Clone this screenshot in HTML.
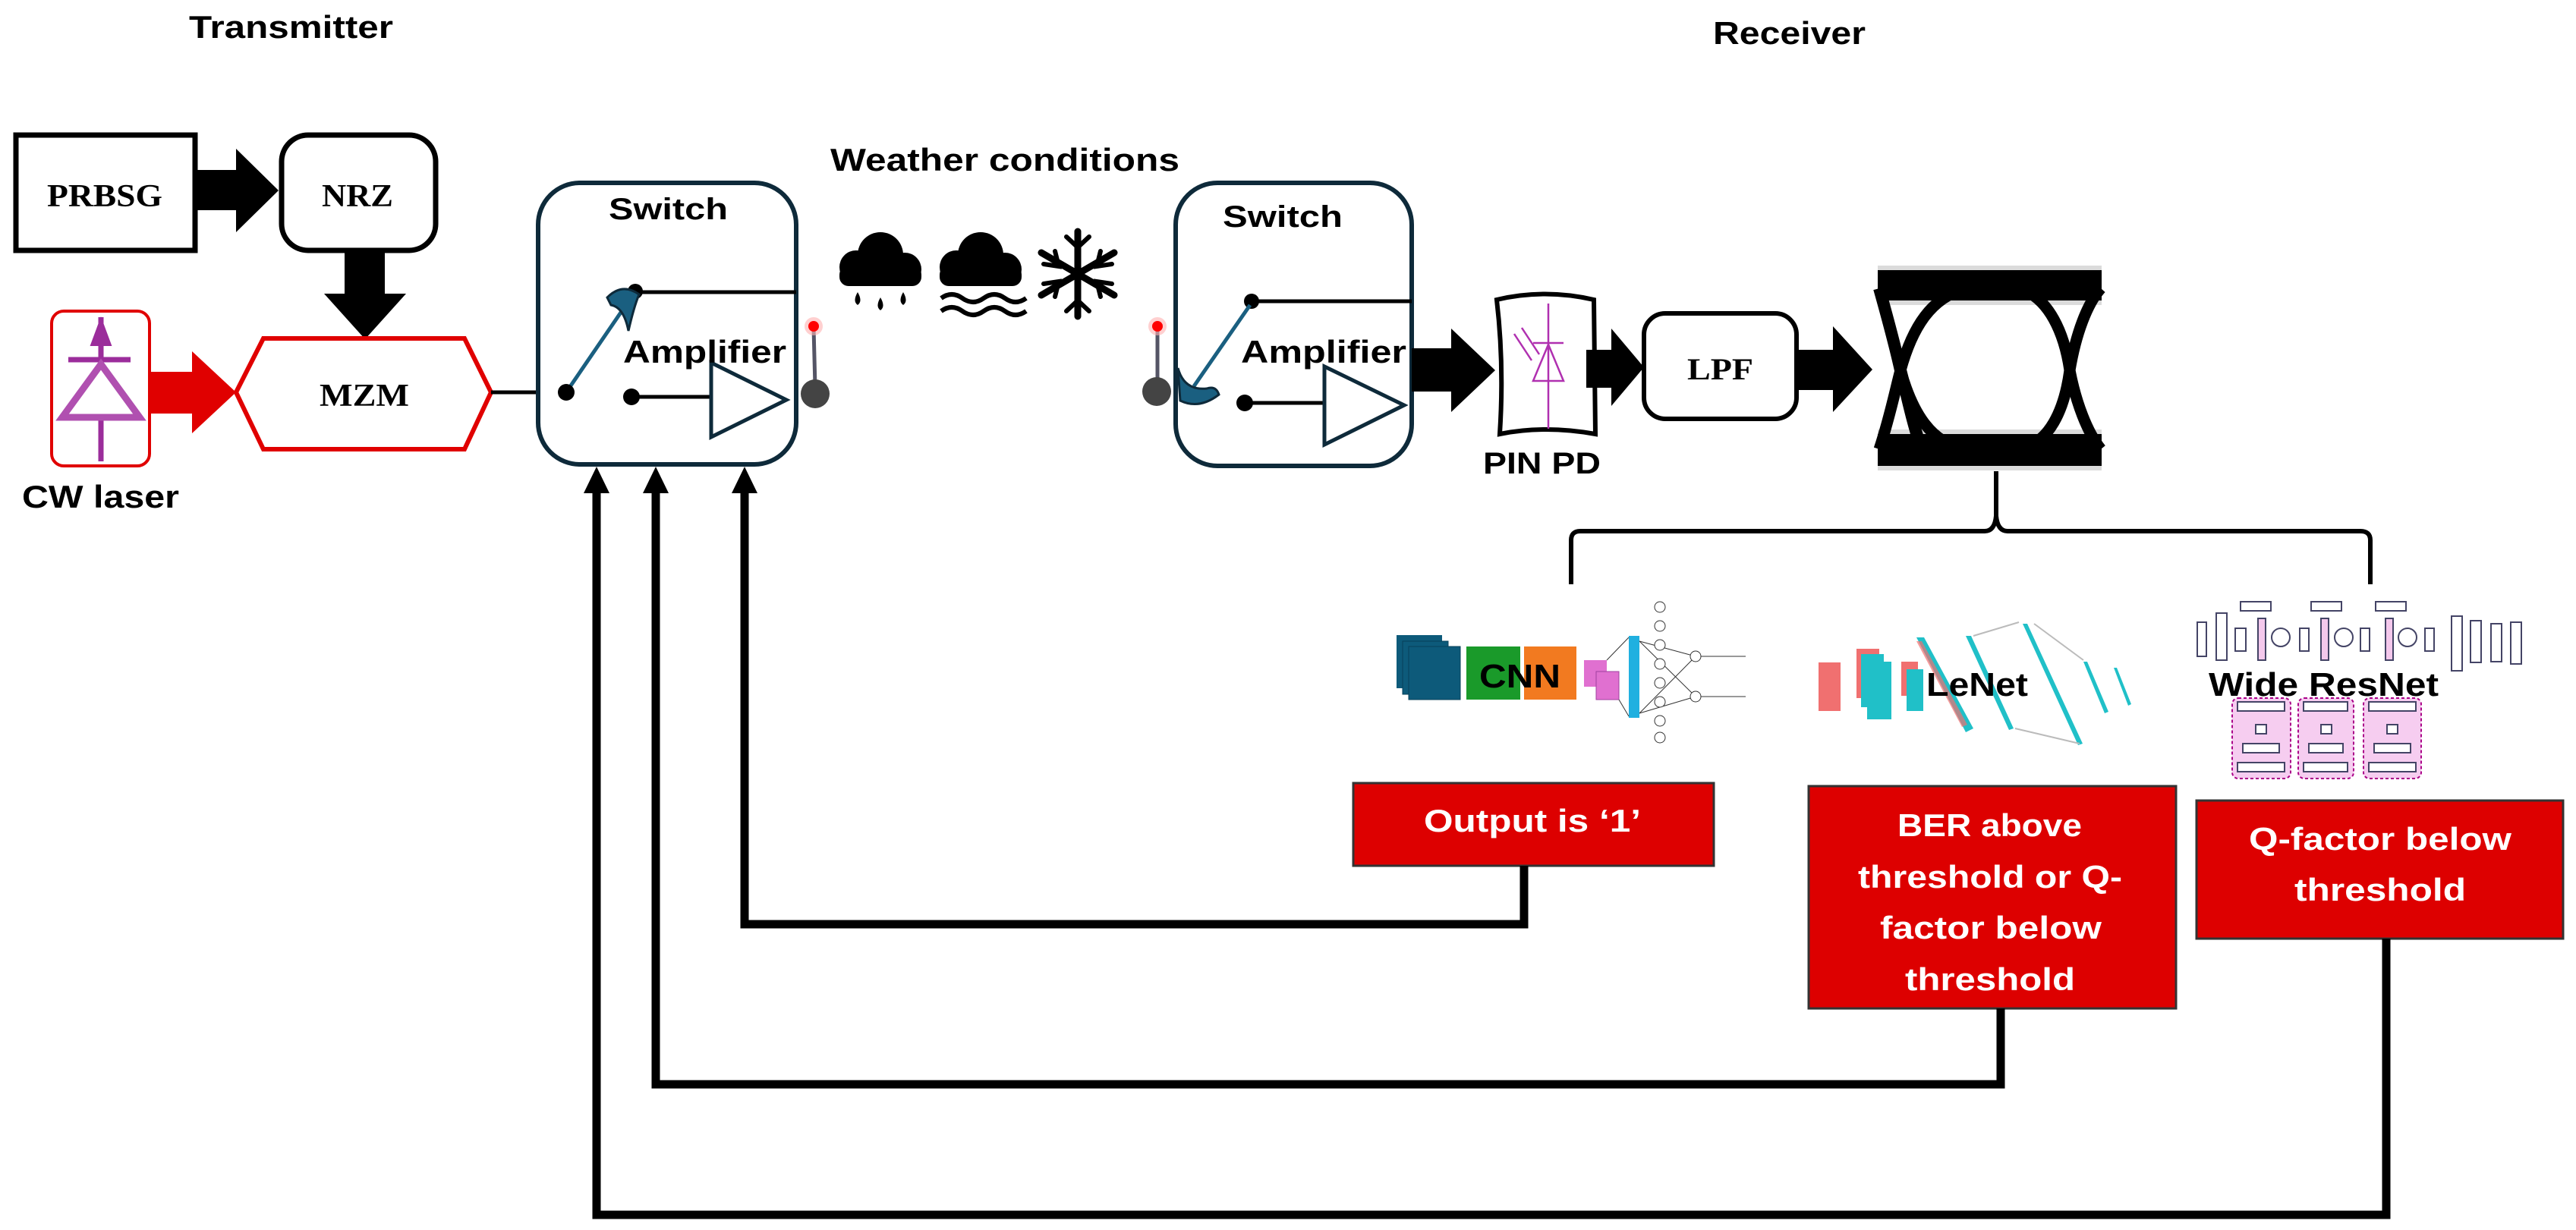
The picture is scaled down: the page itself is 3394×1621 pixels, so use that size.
<!DOCTYPE html>
<html><head><meta charset="utf-8"><style>
html,body{margin:0;padding:0;background:#fff;}
svg{display:block;}
text{font-family:"Liberation Sans",sans-serif;font-weight:bold;}
.serif{font-family:"Liberation Serif",serif;font-weight:bold;}
</style></head><body>
<svg width="3394" height="1621" viewBox="0 0 3394 1621" xmlns="http://www.w3.org/2000/svg">
<rect width="3394" height="1621" fill="#fff"/>

<!-- Titles -->
<text x="249" y="50" font-size="42" textLength="269" lengthAdjust="spacingAndGlyphs">Transmitter</text>
<text x="1094" y="225" font-size="42" textLength="460" lengthAdjust="spacingAndGlyphs">Weather conditions</text>
<text x="2257" y="58" font-size="42" textLength="201" lengthAdjust="spacingAndGlyphs">Receiver</text>

<!-- PRBSG / NRZ -->
<rect x="21" y="178" width="236" height="152" fill="#fff" stroke="#000" stroke-width="7"/>
<text class="serif" x="62" y="272" font-size="42" textLength="152" lengthAdjust="spacingAndGlyphs">PRBSG</text>
<polygon points="257,224 311,224 311,196 367,251 311,306 311,277 257,277" fill="#000"/>
<rect x="371" y="178" width="203" height="152" rx="35" fill="#fff" stroke="#000" stroke-width="7"/>
<text class="serif" x="424" y="272" font-size="42" textLength="94" lengthAdjust="spacingAndGlyphs">NRZ</text>
<polygon points="454,330 507,330 507,387 535,387 481,447 427,387 454,387" fill="#000"/>

<!-- Laser -->
<rect x="68" y="410" width="129" height="204" rx="16" fill="#fff" stroke="#e00000" stroke-width="4"/>
<g stroke="#9b2d9b" fill="none" stroke-width="7">
<line x1="133" y1="418" x2="133" y2="474"/>
<line x1="133" y1="550" x2="133" y2="608"/>
<line x1="90" y1="474" x2="172" y2="474"/>
<polygon points="133,480 82,550 184,550" stroke-width="9" stroke="#b050b0"/>
<polygon points="133,420 120,455 146,455" fill="#9b2d9b" stroke-width="2"/>
</g>
<text x="29" y="669" font-size="42" textLength="207" lengthAdjust="spacingAndGlyphs">CW laser</text>
<polygon points="197,490 253,490 253,463 311,517 253,571 253,545 197,545" fill="#e00000"/>

<!-- MZM -->
<polygon points="311,517 347,446 612,446 647,517 612,592 347,592" fill="#fff" stroke="#e00000" stroke-width="6"/>
<text class="serif" x="421" y="535" font-size="42" textLength="118" lengthAdjust="spacingAndGlyphs">MZM</text>
<line x1="647" y1="517" x2="746" y2="517" stroke="#000" stroke-width="5"/>

<!-- Switch 1 -->
<rect x="709" y="241" width="340" height="371" rx="55" fill="#fff" stroke="#0e2a3a" stroke-width="6"/>
<text x="802" y="289" font-size="40" textLength="157" lengthAdjust="spacingAndGlyphs">Switch</text>
<circle cx="837" cy="384" r="10" fill="#000"/>
<line x1="837" y1="385" x2="1049" y2="385" stroke="#000" stroke-width="5"/>
<line x1="746" y1="517" x2="826" y2="400" stroke="#1a5f80" stroke-width="5"/>
<path d="M800,392 Q820,372 842,388 Q835,405 828,436 Q822,405 805,402 Z" fill="#1a5f80" stroke="#0e2a3a" stroke-width="3"/>
<circle cx="746" cy="517" r="11" fill="#000"/>
<circle cx="832" cy="523" r="11" fill="#000"/>
<line x1="832" y1="523" x2="937" y2="523" stroke="#000" stroke-width="5"/>
<polygon points="937,478 1036,527 937,576" fill="none" stroke="#0e2a3a" stroke-width="5"/>
<text x="821" y="478" font-size="42" textLength="215" lengthAdjust="spacingAndGlyphs">Amplifier</text>
<!-- antenna 1 -->
<line x1="1072" y1="432" x2="1074" y2="510" stroke="#556" stroke-width="5"/>
<circle cx="1072" cy="430" r="12" fill="#ffb0b0" opacity="0.6"/>
<circle cx="1072" cy="430" r="7" fill="#f00"/>
<circle cx="1074" cy="519" r="19" fill="#444"/>

<!-- weather icons -->
<g fill="#000">
<circle cx="1128" cy="352" r="22"/><circle cx="1160" cy="336" r="30"/><circle cx="1192" cy="355" r="22"/>
<rect x="1106" y="350" width="108" height="27" rx="12"/>
<path d="M1130,385 q-7,12 0,17 q7,-5 0,-17z"/><path d="M1160,392 q-7,12 0,17 q7,-5 0,-17z"/><path d="M1190,385 q-7,12 0,17 q7,-5 0,-17z"/>
<circle cx="1260" cy="352" r="22"/><circle cx="1292" cy="336" r="30"/><circle cx="1324" cy="355" r="22"/>
<rect x="1238" y="350" width="108" height="27" rx="12"/>
</g>
<g fill="none" stroke="#000" stroke-width="6">
<path d="M1240,393 q14,-10 28,0 t28,0 t28,0 t28,0"/>
<path d="M1240,410 q14,-10 28,0 t28,0 t28,0 t28,0"/>
</g>
<g stroke="#000" stroke-width="9" stroke-linecap="round" fill="none">
<line x1="1420" y1="305" x2="1420" y2="417"/>
<line x1="1372" y1="333" x2="1468" y2="389"/>
<line x1="1372" y1="389" x2="1468" y2="333"/>
<path d="M1405,312 l15,14 l15,-14 M1405,410 l15,-14 l15,14" stroke-width="6"/>
<path d="M1375,348 l20,3 l-5,-20 M1465,374 l-20,-3 l5,20 M1375,374 l20,-3 l-5,20 M1465,348 l-20,3 l5,-20" stroke-width="6"/>
</g>

<!-- Switch 2 -->
<rect x="1549" y="241" width="311" height="373" rx="55" fill="#fff" stroke="#0e2a3a" stroke-width="6"/>
<text x="1611" y="299" font-size="40" textLength="158" lengthAdjust="spacingAndGlyphs">Switch</text>
<circle cx="1649" cy="397" r="10" fill="#000"/>
<line x1="1649" y1="397" x2="1860" y2="397" stroke="#000" stroke-width="5"/>
<line x1="1573" y1="509" x2="1647" y2="402" stroke="#1a5f80" stroke-width="5"/>
<path d="M1552,485 Q1560,515 1590,512 Q1602,508 1606,520 Q1580,540 1555,528 Z" fill="#1a5f80" stroke="#0e2a3a" stroke-width="3"/>
<circle cx="1640" cy="531" r="11" fill="#000"/>
<line x1="1640" y1="531" x2="1745" y2="531" stroke="#000" stroke-width="5"/>
<polygon points="1745,483 1850,534 1745,586" fill="none" stroke="#0e2a3a" stroke-width="5"/>
<text x="1635" y="478" font-size="42" textLength="218" lengthAdjust="spacingAndGlyphs">Amplifier</text>
<line x1="1525" y1="432" x2="1525" y2="508" stroke="#556" stroke-width="5"/>
<circle cx="1525" cy="430" r="12" fill="#ffb0b0" opacity="0.6"/>
<circle cx="1525" cy="430" r="7" fill="#f00"/>
<circle cx="1524" cy="516" r="19" fill="#444"/>

<!-- receiver chain -->
<polygon points="1860,459 1912,459 1912,433 1970,488 1912,543 1912,516 1860,516" fill="#000"/>
<path d="M1972,395 Q2035,380 2100,395 L2102,572 Q2035,560 1976,572 Q1982,480 1972,395 Z" fill="#fff" stroke="#000" stroke-width="6"/>
<g stroke="#b030b0" stroke-width="2.5" fill="none">
<line x1="2040" y1="400" x2="2040" y2="565"/>
<line x1="2020" y1="452" x2="2060" y2="452"/>
<polygon points="2040,454 2020,502 2060,502"/>
<line x1="1995" y1="440" x2="2018" y2="475"/><line x1="2005" y1="432" x2="2028" y2="467"/>
</g>
<text x="1954" y="624" font-size="40" textLength="155" lengthAdjust="spacingAndGlyphs">PIN PD</text>
<polygon points="2090,461 2123,461 2123,433 2166,484 2123,535 2123,511 2090,511" fill="#000"/>
<rect x="2166" y="413" width="201" height="139" rx="28" fill="#fff" stroke="#000" stroke-width="6"/>
<text class="serif" x="2223" y="500" font-size="40" textLength="87" lengthAdjust="spacingAndGlyphs">LPF</text>
<polygon points="2367,461 2415,461 2415,430 2467,487 2415,543 2415,514 2367,514" fill="#000"/>

<!-- eye diagram -->
<g fill="none" stroke="#000" stroke-linecap="butt">
<rect x="2474" y="350" width="295" height="52" fill="#999" stroke="none" opacity="0.35"/>
<rect x="2474" y="566" width="295" height="54" fill="#999" stroke="none" opacity="0.35"/>
<rect x="2474" y="356" width="295" height="40" fill="#000" stroke="none"/>
<rect x="2474" y="572" width="295" height="42" fill="#000" stroke="none"/>
<path d="M2476,380 C2490,430 2500,470 2504,488 C2510,510 2520,560 2532,592" stroke-width="16"/>
<path d="M2504,488 C2520,430 2545,392 2590,380 L2660,380 C2700,392 2720,440 2727,488 C2735,530 2750,570 2768,592" stroke-width="15"/>
<path d="M2504,488 C2520,545 2545,585 2590,592 L2660,592 C2700,585 2720,540 2727,488 C2735,440 2750,400 2768,380" stroke-width="15"/>
<path d="M2476,592 C2490,550 2498,510 2504,488" stroke-width="15"/>
</g>

<!-- brace -->
<path d="M2070,770 L2070,712 Q2070,700 2082,700 L2615,700 Q2628,700 2630,680 L2630,621 L2630,680 Q2632,700 2645,700 L3110,700 Q3123,700 3123,712 L3123,770" fill="none" stroke="#000" stroke-width="6"/>

<!-- CNN image -->
<g>
<rect x="1840" y="837" width="60" height="70" fill="#0d5a7a"/>
<rect x="1848" y="845" width="60" height="70" fill="#0d5a7a" stroke="#08405a" stroke-width="1"/>
<rect x="1856" y="852" width="68" height="70" fill="#0d5a7a" stroke="#08405a" stroke-width="1"/>
<rect x="1932" y="852" width="71" height="70" fill="#1a9a2a"/>
<rect x="2008" y="852" width="69" height="70" fill="#f27a20"/>
<rect x="2087" y="870" width="30" height="35" fill="#e070d0"/>
<rect x="2103" y="885" width="30" height="37" fill="#e070d0" stroke="#a040a0" stroke-width="1"/>
<rect x="2146" y="838" width="14" height="108" fill="#20b0e0"/>
<g stroke="#333" stroke-width="1" fill="#fff">
<line x1="2160" y1="845" x2="2234" y2="865"/><line x1="2160" y1="940" x2="2234" y2="918"/>
<line x1="2160" y1="845" x2="2234" y2="918"/><line x1="2160" y1="940" x2="2234" y2="865"/>
<line x1="2117" y1="870" x2="2146" y2="840"/><line x1="2133" y1="922" x2="2146" y2="944"/>
<circle cx="2187" cy="800" r="7"/><circle cx="2187" cy="825" r="7"/><circle cx="2187" cy="850" r="7"/><circle cx="2187" cy="875" r="7"/>
<circle cx="2187" cy="900" r="7"/><circle cx="2187" cy="925" r="7"/><circle cx="2187" cy="950" r="7"/><circle cx="2187" cy="972" r="7"/>
<circle cx="2234" cy="865" r="7"/><circle cx="2234" cy="918" r="7"/>
<line x1="2241" y1="865" x2="2300" y2="865"/><line x1="2241" y1="918" x2="2300" y2="918"/>
</g>
</g>
<text x="1949" y="906" font-size="44" textLength="107" lengthAdjust="spacingAndGlyphs">CNN</text>

<!-- LeNet image -->
<g>
<rect x="2396" y="873" width="29" height="64" fill="#f07070"/>
<rect x="2446" y="855" width="30" height="65" fill="#f07070"/>
<rect x="2452" y="862" width="30" height="70" fill="#20c0c8"/>
<rect x="2460" y="872" width="32" height="76" fill="#20c0c8"/>
<rect x="2505" y="872" width="22" height="45" fill="#f07070"/>
<rect x="2512" y="882" width="22" height="55" fill="#20c0c8"/>
<polygon points="2525,840 2535,840 2600,960 2590,965" fill="#20c0c8"/>
<polygon points="2525,845 2532,845 2592,955 2585,958" fill="#f07070" opacity="0.7"/>
<polygon points="2590,838 2597,838 2653,960 2647,962" fill="#20c0c8"/>
<polygon points="2665,822 2671,822 2744,980 2738,982" fill="#20c0c8"/>
<polygon points="2745,872 2750,872 2778,938 2773,940" fill="#20c0c8"/>
<polygon points="2785,880 2789,880 2808,928 2804,930" fill="#20c0c8"/>
<g stroke="#bbb" stroke-width="2" fill="none"><line x1="2600" y1="838" x2="2660" y2="820"/><line x1="2680" y1="822" x2="2745" y2="870"/><line x1="2655" y1="960" x2="2740" y2="980"/></g>
</g>
<text x="2538" y="917" font-size="44" textLength="134" lengthAdjust="spacingAndGlyphs">LeNet</text>

<!-- Wide ResNet image -->
<g stroke="#446" stroke-width="2" fill="#fff">
<rect x="2895" y="820" width="12" height="45"/><rect x="2920" y="808" width="14" height="62"/>
<rect x="2945" y="828" width="14" height="30"/><rect x="2975" y="815" width="10" height="55" fill="#f4c8ec"/>
<circle cx="3005" cy="840" r="12"/><rect x="3030" y="828" width="12" height="30"/>
<rect x="3058" y="815" width="10" height="55" fill="#f4c8ec"/><circle cx="3088" cy="840" r="12"/>
<rect x="3110" y="828" width="12" height="30"/><rect x="3143" y="815" width="10" height="55" fill="#f4c8ec"/>
<circle cx="3172" cy="840" r="12"/><rect x="3195" y="828" width="12" height="30"/>
<rect x="3230" y="812" width="14" height="72"/><rect x="3255" y="818" width="14" height="55"/>
<rect x="3282" y="822" width="14" height="50"/><rect x="3308" y="820" width="14" height="55"/>
<rect x="2952" y="793" width="40" height="12"/><rect x="3045" y="793" width="40" height="12"/><rect x="3130" y="793" width="40" height="12"/>
<rect x="2941" y="920" width="77" height="106" rx="8" fill="#f6cdf0" stroke="#a08" stroke-dasharray="4,3"/>
<rect x="3028" y="920" width="73" height="106" rx="8" fill="#f6cdf0" stroke="#a08" stroke-dasharray="4,3"/>
<rect x="3114" y="920" width="76" height="106" rx="8" fill="#f6cdf0" stroke="#a08" stroke-dasharray="4,3"/>
<rect x="2948" y="925" width="62" height="12"/><rect x="2972" y="955" width="14" height="12"/><rect x="2955" y="980" width="48" height="12"/><rect x="2948" y="1005" width="62" height="12"/>
<rect x="3035" y="925" width="58" height="12"/><rect x="3058" y="955" width="14" height="12"/><rect x="3042" y="980" width="45" height="12"/><rect x="3035" y="1005" width="58" height="12"/>
<rect x="3121" y="925" width="62" height="12"/><rect x="3145" y="955" width="14" height="12"/><rect x="3128" y="980" width="48" height="12"/><rect x="3121" y="1005" width="62" height="12"/>
</g>
<text x="2910" y="917" font-size="44" textLength="303" lengthAdjust="spacingAndGlyphs">Wide ResNet</text>

<!-- red boxes -->
<rect x="1783" y="1032" width="475" height="109" fill="#dd0000" stroke="#333" stroke-width="3"/>
<text x="1876" y="1096" font-size="42" fill="#fff" textLength="286" lengthAdjust="spacingAndGlyphs">Output is ‘1’</text>
<rect x="2383" y="1036" width="484" height="293" fill="#dd0000" stroke="#333" stroke-width="3"/>
<g fill="#fff" font-size="42">
<text x="2500" y="1102" textLength="243" lengthAdjust="spacingAndGlyphs">BER above</text>
<text x="2448" y="1170" textLength="348" lengthAdjust="spacingAndGlyphs">threshold or Q-</text>
<text x="2477" y="1237" textLength="292" lengthAdjust="spacingAndGlyphs">factor below</text>
<text x="2510" y="1305" textLength="224" lengthAdjust="spacingAndGlyphs">threshold</text>
</g>
<rect x="2894" y="1055" width="483" height="182" fill="#dd0000" stroke="#333" stroke-width="3"/>
<g fill="#fff" font-size="42">
<text x="2963" y="1120" textLength="346" lengthAdjust="spacingAndGlyphs">Q-factor below</text>
<text x="3023" y="1187" textLength="226" lengthAdjust="spacingAndGlyphs">threshold</text>
</g>

<!-- feedback lines -->
<g fill="none" stroke="#000" stroke-width="11" stroke-linejoin="miter">
<polyline points="2008,1141 2008,1218 981,1218 981,645"/>
<polyline points="2636,1329 2636,1429 864,1429 864,645"/>
<polyline points="3144,1237 3144,1601 786,1601 786,645"/>
</g>
<g fill="#000">
<polygon points="786,615 769,650 803,650"/>
<polygon points="864,615 847,650 881,650"/>
<polygon points="981,615 964,650 998,650"/>
</g>
</svg>
</body></html>
